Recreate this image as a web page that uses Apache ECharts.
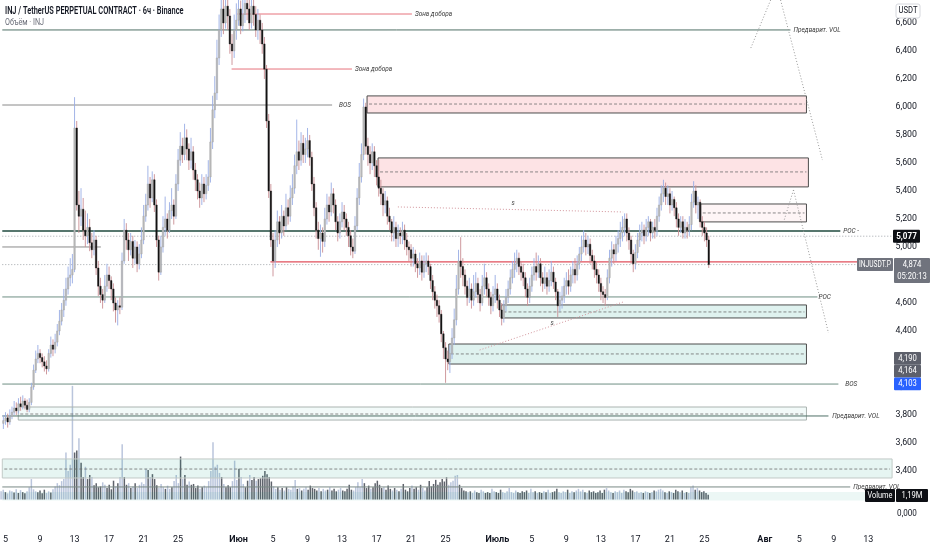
<!DOCTYPE html>
<html><head><meta charset="utf-8">
<script src="https://cdn.jsdelivr.net/npm/echarts@6/dist/echarts.min.js"></script>
<style>html,body{margin:0;padding:0;background:#fff}#c{width:932px;height:550px}</style>
</head><body><div id="c"></div>
<script>
// ---------- time axis ----------
const START_UTC = Date.UTC(2025, 4, 4, 18);   // first 6h candle
const CANDLE_MS = 6 * 3600 * 1000;
const N_CAT = 431;
const LAST_LABEL_IDX = 405;
const monthNames = ['Янв','Фев','Мар','Апр','Май','Июн','Июль','Авг','Сен','Окт','Ноя','Дек'];
const labelDays = [5, 9, 13, 17, 21, 25];

// ---------- candles [open, close, low, high] ----------
const ohlc = [
[3.74,3.76,3.70,3.80],[3.76,3.78,3.73,3.82],[3.78,3.75,3.71,3.81],[3.75,3.79,3.73,3.84],[3.79,3.82,3.77,3.86],
[3.82,3.85,3.80,3.90],[3.85,3.83,3.80,3.89],[3.83,3.88,3.81,3.92],[3.88,3.86,3.83,3.93],[3.86,3.90,3.84,3.94],
[3.90,3.87,3.84,3.92],[3.87,3.84,3.82,3.91],[3.84,3.89,3.82,3.92],[3.89,4.00,3.87,4.03],[4.00,4.12,3.98,4.16],
[4.12,4.20,4.10,4.26],[4.20,4.24,4.17,4.30],[4.24,4.21,4.17,4.27],[4.21,4.18,4.14,4.24],[4.18,4.15,4.11,4.22],
[4.15,4.13,4.09,4.19],[4.13,4.24,4.11,4.27],[4.24,4.30,4.21,4.36],[4.30,4.27,4.22,4.34],[4.27,4.32,4.24,4.38],
[4.32,4.40,4.29,4.45],[4.40,4.47,4.37,4.55],[4.47,4.55,4.44,4.60],[4.55,4.62,4.50,4.70],[4.62,4.70,4.58,4.78],
[4.70,4.78,4.66,4.86],[4.78,4.80,4.72,4.92],[4.80,4.84,4.74,4.95],[4.84,5.85,4.82,6.07],[5.85,5.30,5.26,5.90],
[5.30,5.22,5.10,5.40],[5.22,5.27,5.15,5.42],[5.27,5.12,5.05,5.35],[5.12,5.08,5.00,5.26],[5.08,5.14,5.02,5.24],
[5.14,5.03,4.97,5.20],[5.03,4.98,4.92,5.10],[4.98,5.05,4.94,5.12],[5.05,4.85,4.80,5.08],[4.85,4.72,4.65,4.90],
[4.72,4.66,4.60,4.78],[4.66,4.62,4.56,4.70],[4.62,4.72,4.60,4.80],[4.72,4.80,4.68,4.88],[4.80,4.76,4.70,4.86],
[4.76,4.70,4.62,4.79],[4.70,4.60,4.54,4.74],[4.60,4.55,4.46,4.64],[4.55,4.58,4.44,4.62],[4.58,4.57,4.52,4.64],
[4.57,4.90,4.55,4.96],[4.90,5.12,4.88,5.20],[5.12,5.05,4.98,5.17],[5.05,4.98,4.90,5.10],[4.98,5.04,4.94,5.10],
[5.04,4.92,4.85,5.08],[4.92,5.00,4.88,5.05],[5.00,4.88,4.82,5.04],[4.88,4.95,4.84,5.02],[4.95,5.05,4.92,5.14],
[5.05,5.22,5.02,5.30],[5.22,5.30,5.18,5.38],[5.30,5.45,5.26,5.58],[5.45,5.35,5.28,5.50],[5.35,5.48,5.32,5.54],
[5.48,5.30,5.25,5.52],[5.30,5.05,5.00,5.34],[5.05,4.82,4.76,5.08],[4.82,5.00,4.80,5.08],[5.00,5.14,4.96,5.22],
[5.14,5.20,5.08,5.36],[5.20,5.12,5.06,5.24],[5.12,5.26,5.10,5.32],[5.26,5.30,5.20,5.42],[5.30,5.22,5.16,5.34],
[5.22,5.45,5.20,5.52],[5.45,5.62,5.40,5.70],[5.62,5.72,5.58,5.82],[5.72,5.66,5.60,5.78],[5.66,5.78,5.62,5.88],
[5.78,5.70,5.62,5.84],[5.70,5.62,5.55,5.74],[5.62,5.68,5.56,5.78],[5.68,5.55,5.48,5.72],[5.55,5.48,5.40,5.60],
[5.48,5.40,5.34,5.52],[5.40,5.35,5.28,5.46],[5.35,5.45,5.30,5.52],[5.45,5.38,5.32,5.50],[5.38,5.44,5.34,5.52],
[5.44,5.50,5.40,5.62],[5.50,5.75,5.46,5.85],[5.75,5.98,5.70,6.08],[5.98,6.10,5.92,6.22],[6.10,6.35,6.05,6.48],
[6.35,6.55,6.30,6.66],[6.55,6.70,6.50,6.82],[6.70,6.60,6.52,6.78],[6.60,6.72,6.56,6.85],[6.72,6.65,6.55,6.80],
[6.65,6.45,6.38,6.70],[6.45,6.40,6.30,6.52],[6.40,6.55,6.35,6.66],[6.55,6.62,6.48,6.74],[6.62,6.70,6.58,6.82],
[6.70,6.58,6.52,6.76],[6.58,6.66,6.54,6.78],[6.66,6.74,6.60,6.88],[6.74,6.70,6.62,6.84],[6.70,6.60,6.55,6.78],
[6.60,6.72,6.56,6.86],[6.72,6.66,6.58,6.80],[6.66,6.55,6.50,6.72],[6.55,6.62,6.48,6.70],[6.62,6.55,6.45,6.66],
[6.55,6.45,6.38,6.60],[6.45,6.27,6.20,6.50],[6.27,5.90,5.85,6.30],[5.90,5.40,5.35,5.95],[5.40,5.05,5.00,5.45],
[5.05,4.90,4.79,5.10],[4.90,5.05,4.85,5.12],[5.05,5.18,5.00,5.26],[5.18,5.10,5.02,5.22],[5.10,5.22,5.06,5.30],
[5.22,5.15,5.08,5.26],[5.15,5.28,5.12,5.38],[5.28,5.22,5.16,5.34],[5.22,5.35,5.18,5.44],[5.35,5.42,5.30,5.52],
[5.42,5.58,5.38,5.66],[5.58,5.68,5.52,5.91],[5.68,5.62,5.55,5.76],[5.62,5.74,5.58,5.82],[5.74,5.66,5.60,5.80],
[5.66,5.70,5.60,5.78],[5.70,5.76,5.64,5.85],[5.76,5.64,5.58,5.80],[5.64,5.45,5.40,5.68],[5.45,5.28,5.22,5.50],
[5.28,5.12,5.06,5.32],[5.12,5.06,4.98,5.18],[5.06,5.10,4.93,5.16],[5.10,5.04,4.96,5.14],[5.04,5.20,5.00,5.28],
[5.20,5.30,5.16,5.38],[5.30,5.25,5.18,5.36],[5.25,5.38,5.22,5.46],[5.38,5.30,5.24,5.42],[5.30,5.18,5.12,5.34],
[5.18,5.10,5.04,5.22],[5.10,5.18,5.06,5.24],[5.18,5.25,5.14,5.32],[5.25,5.20,5.12,5.30],[5.20,5.14,5.08,5.24],
[5.14,5.08,5.00,5.18],[5.08,5.00,4.94,5.12],[5.00,4.97,4.92,5.06],[4.97,5.15,4.95,5.22],[5.15,5.35,5.12,5.42],
[5.35,5.50,5.30,5.60],[5.50,5.66,5.46,5.74],[5.66,6.00,5.62,6.06],[6.00,5.72,5.66,6.03],[5.72,5.66,5.58,5.78],
[5.66,5.60,5.52,5.72],[5.60,5.68,5.55,5.74],[5.68,5.58,5.50,5.72],[5.58,5.50,5.44,5.62],[5.50,5.42,5.36,5.62],
[5.42,5.38,5.30,5.48],[5.38,5.30,5.22,5.42],[5.30,5.33,5.24,5.40],[5.33,5.22,5.16,5.36],[5.22,5.18,5.12,5.28],
[5.18,5.10,5.04,5.20],[5.10,5.14,5.04,5.22],[5.14,5.06,5.00,5.18],[5.06,5.10,5.00,5.16],[5.10,5.08,5.02,5.14],
[5.08,5.12,5.02,5.18],[5.12,5.05,4.98,5.16],[5.05,5.00,4.94,5.10],[5.00,4.98,4.90,5.04],[4.98,4.92,4.86,5.02],
[4.92,4.95,4.86,5.00],[4.95,4.88,4.82,4.98],[4.88,4.85,4.78,4.92],[4.85,4.90,4.80,4.96],[4.90,4.82,4.76,4.94],
[4.82,4.88,4.78,4.94],[4.88,4.90,4.82,4.96],[4.90,4.86,4.80,4.94],[4.86,4.76,4.70,4.88],[4.76,4.68,4.62,4.80],
[4.68,4.62,4.56,4.72],[4.62,4.58,4.50,4.66],[4.58,4.52,4.46,4.62],[4.52,4.38,4.32,4.55],[4.38,4.28,4.20,4.40],
[4.28,4.20,4.03,4.32],[4.20,4.18,4.12,4.26],[4.18,4.24,4.10,4.30],[4.24,4.35,4.20,4.42],[4.35,4.48,4.30,4.56],
[4.48,4.70,4.44,4.80],[4.70,4.90,4.66,4.98],[4.90,4.86,4.78,5.07],[4.86,4.80,4.72,4.92],[4.80,4.72,4.66,4.84],
[4.72,4.64,4.58,4.76],[4.64,4.70,4.60,4.78],[4.70,4.62,4.56,4.74],[4.62,4.68,4.58,4.80],[4.68,4.74,4.64,4.82],
[4.74,4.66,4.60,4.78],[4.66,4.60,4.54,4.70],[4.60,4.72,4.58,4.80],[4.72,4.78,4.66,4.88],[4.78,4.70,4.64,4.82],
[4.70,4.64,4.58,4.74],[4.64,4.58,4.52,4.68],[4.58,4.66,4.54,4.72],[4.66,4.70,4.60,4.80],[4.70,4.62,4.56,4.74],
[4.62,4.55,4.50,4.66],[4.55,4.49,4.44,4.60],[4.49,4.58,4.46,4.62],[4.58,4.64,4.54,4.70],[4.64,4.70,4.60,4.76],
[4.70,4.78,4.66,4.84],[4.78,4.84,4.74,4.90],[4.84,4.88,4.78,4.96],[4.88,4.92,4.82,4.98],[4.92,4.86,4.80,4.96],
[4.86,4.82,4.76,4.90],[4.82,4.78,4.72,4.88],[4.78,4.70,4.64,4.82],[4.70,4.64,4.58,4.74],[4.64,4.72,4.60,4.78],
[4.72,4.80,4.68,4.86],[4.80,4.86,4.76,4.92],[4.86,4.82,4.76,4.96],[4.82,4.88,4.78,4.94],[4.88,4.78,4.72,4.92],
[4.78,4.74,4.68,4.82],[4.74,4.78,4.70,4.86],[4.78,4.72,4.66,4.82],[4.72,4.76,4.68,4.84],[4.76,4.82,4.72,4.90],
[4.82,4.75,4.70,4.86],[4.75,4.68,4.62,4.78],[4.68,4.58,4.50,4.70],[4.58,4.62,4.54,4.68],[4.62,4.65,4.56,4.72],
[4.65,4.72,4.60,4.78],[4.72,4.76,4.66,4.82],[4.76,4.72,4.66,4.84],[4.72,4.80,4.68,4.86],[4.80,4.84,4.74,4.90],
[4.84,4.80,4.74,4.92],[4.80,4.88,4.76,4.94],[4.88,4.95,4.84,5.00],[4.95,5.00,4.90,5.08],[5.00,5.05,4.96,5.12],
[5.05,5.00,4.94,5.10],[5.00,5.02,4.95,5.08],[5.02,4.94,4.88,5.06],[4.94,4.90,4.84,4.98],[4.90,4.84,4.78,4.94],
[4.84,4.80,4.74,4.90],[4.80,4.74,4.68,4.84],[4.74,4.68,4.62,4.78],[4.68,4.66,4.60,4.72],[4.66,4.64,4.58,4.70],
[4.64,4.78,4.62,4.84],[4.78,4.92,4.74,4.98],[4.92,4.98,4.86,5.04],[4.98,4.95,4.88,5.02],[4.95,5.02,4.90,5.08],
[5.02,5.06,4.96,5.12],[5.06,5.10,5.00,5.18],[5.10,5.14,5.04,5.22],[5.14,5.20,5.08,5.24],[5.20,5.10,5.04,5.24],
[5.10,5.05,4.98,5.14],[5.05,4.95,4.88,5.08],[4.95,4.88,4.82,4.98],[4.88,4.96,4.84,5.02],[4.96,5.05,4.92,5.10],
[5.05,5.10,5.00,5.16],[5.10,5.12,5.04,5.18],[5.12,5.08,5.02,5.16],[5.08,5.14,5.04,5.20],[5.14,5.18,5.08,5.22],
[5.18,5.10,5.04,5.20],[5.10,5.14,5.06,5.18],[5.14,5.12,5.06,5.20],[5.12,5.22,5.08,5.28],[5.22,5.30,5.18,5.36],
[5.30,5.38,5.26,5.44],[5.38,5.42,5.32,5.48],[5.42,5.36,5.30,5.46],[5.36,5.38,5.30,5.44],[5.38,5.30,5.24,5.42],
[5.30,5.34,5.26,5.40],[5.34,5.28,5.22,5.36],[5.28,5.20,5.14,5.32],[5.20,5.14,5.08,5.24],[5.14,5.18,5.10,5.22],
[5.18,5.10,5.06,5.22],[5.10,5.14,5.06,5.20],[5.14,5.12,5.06,5.18],[5.12,5.16,5.08,5.22],[5.16,5.32,5.12,5.38],
[5.32,5.40,5.28,5.47],[5.40,5.30,5.24,5.44],[5.30,5.32,5.20,5.36],[5.32,5.18,5.14,5.34],[5.18,5.14,5.08,5.22],
[5.14,5.10,5.04,5.18],[5.10,5.05,5.00,5.14],[5.05,4.874,4.85,5.08]
];

// ---------- volume (millions) ----------
const volume = [
2.0,2.4,1.8,1.5,2.2,2.0,1.7,2.5,1.6,2.3,1.8,1.5,2.0,3.0,5.0,2.5,2.0,1.8,2.2,1.5,
2.4,1.6,2.0,1.7,2.5,3.2,4.0,3.5,4.5,5.0,11.5,7.0,8.5,27.8,11.5,12.0,15.0,9.0,5.5,8.0,
5.0,6.0,5.5,3.5,4.0,3.0,3.2,4.2,3.6,2.8,3.6,2.5,4.6,3.2,4.0,5.5,13.5,5.5,3.6,4.0,
2.8,3.2,4.0,2.8,3.6,4.2,3.8,7.5,7.2,5.5,6.2,5.0,3.5,2.8,3.8,3.0,2.6,3.4,2.6,3.0,
4.5,6.0,4.0,10.5,5.0,6.0,3.6,4.4,3.6,3.8,2.8,3.4,2.6,3.0,3.4,3.0,4.5,7.0,14.0,8.0,
8.5,6.5,5.5,3.8,3.0,3.5,3.0,4.5,9.5,4.8,7.5,5.5,3.8,3.0,4.6,6.0,4.8,5.5,4.6,5.0,
5.2,5.8,7.0,6.2,5.5,4.4,3.2,2.6,3.0,2.4,2.8,2.2,3.0,2.6,2.4,3.2,4.8,2.6,2.8,2.2,
2.6,3.0,2.4,3.4,2.8,2.6,2.2,2.8,2.0,2.6,2.2,2.4,3.0,2.2,2.6,2.0,2.4,2.8,2.2,2.0,
2.6,3.6,2.4,2.2,3.0,4.2,3.0,5.0,4.0,2.8,3.4,2.6,3.0,4.0,4.6,3.6,2.8,3.0,2.4,3.4,
2.6,2.2,2.8,2.4,2.0,2.6,3.8,2.4,2.0,2.8,3.4,2.6,3.0,2.4,3.6,2.8,2.2,3.0,4.5,3.2,
3.8,4.8,3.6,4.2,5.0,4.4,5.5,3.6,4.2,4.6,5.8,6.0,3.6,2.8,2.2,2.0,1.8,2.0,1.6,2.2,
1.8,1.6,2.4,2.0,1.6,1.8,1.6,2.6,2.0,1.8,1.6,2.4,1.8,1.6,2.0,2.8,1.8,1.6,2.2,1.8,
1.6,2.0,1.8,2.2,1.6,2.6,1.8,2.0,1.6,1.8,1.6,2.0,1.8,2.4,1.6,1.8,2.0,2.6,1.8,1.6,
2.0,1.8,2.4,1.6,2.0,1.8,2.2,2.6,2.0,2.4,1.8,1.6,2.2,1.8,2.0,1.6,1.8,2.2,1.6,2.4,
2.8,2.2,1.8,1.6,2.0,1.8,2.2,1.6,2.4,2.0,1.8,2.6,2.2,1.8,2.0,1.6,1.8,1.6,2.0,1.8,
1.6,1.8,2.2,2.0,2.4,2.6,2.2,1.8,1.6,2.0,1.8,1.6,2.4,2.0,1.8,2.2,1.6,1.8,1.6,3.0,
3.4,2.4,2.8,2.2,1.8,2.0,1.6,1.19
];

// ---------- drawings (candle index, price) ----------
// zones: [fromIdx, toIdx, top, bottom, mid]
const zones = [
[168.6,372.3,6.079,5.957,6.021],
[173.7,373.2,5.636,5.429,5.536],
[323.3,372.3,5.307,5.179,5.243],
[230.9,372.3,4.586,4.493,4.536],
[206.5,372.3,4.307,4.164,4.236],
[6.9,372.3,3.857,3.764,3.807],
[-0.5,412.0,3.486,3.350,3.414],
[-0.5,399.5,3.250,3.190,null]
];
const zoneKinds = ['sell','sell','sellLight','buy','buy','volLight','vol','volBand'];

// horizontal levels: [price, fromIdx, toIdx]
const levels = [
[6.550,-0.5,364.9],[6.014,-0.5,152.4],[6.664,108.5,189.4],[6.271,105.8,161.6],
[5.114,-0.5,388.0],[5.000,-0.5,45.2],[4.893,123.8,399.5],[4.643,-0.5,377.4],
[4.021,-0.5,387.1],[3.793,-0.5,382.5],[3.286,-0.5,392.6],
[5.077,-0.5,412.0],[4.874,-0.5,399.5]
];
const levelKinds = ['vol','bos','add','add','poc','range','level','poc2','bos2','vol','vol2','price','price'];

// sloped / projection lines: [idx1, price1, idx2, price2]
const slopes = [
[182.9,5.286,287.3,5.250],[220.8,4.264,287.3,4.607],
[355.7,6.764,346.5,6.421],[360.3,6.764,379.7,5.621],
[366.3,5.407,382.5,4.386],[366.3,5.407,361.7,5.179]
];
const slopeKinds = ['s','s','proj','proj','proj','proj'];

// drawing labels: [idx, price, text]
const notes = [
[366.3,6.550,'Предварит. VOL'],[155.6,6.014,'BOS'],[190.8,6.664,'Зона добора'],[163.0,6.271,'Зона добора'],
[389.4,5.114,'POC -'],[377.9,4.643,'POC'],[390.3,4.021,'BOS'],[384.3,3.793,'Предварит. VOL'],
[394.0,3.286,'Предварит. VOL'],[235.6,5.314,'s'],[253.6,4.457,'s']
];

// price tags on the scale
const lastClose = 5.077, curPrice = 4.874, tagStack = [4.190, 4.164, 4.103];
const lastVolumeText = '1,19M', countdownText = '05:20:13';

// ---------- styles ----------
const UP_BODY = '#bcbcbc', UP_EDGE = '#9e9e9e', UP_WICK = '#98ade4', DN_BODY = '#141414', DN_WICK = '#c98d93';
const VOL_UP = 'rgba(140,158,196,0.6)', VOL_DN = 'rgba(78,82,92,0.9)';
const zoneStyle = {
  sell:{fill:'rgba(242,54,69,0.14)', stroke:'#4d4d4d'},
  sellLight:{fill:'rgba(242,54,69,0.05)', stroke:'#4d4d4d'},
  buy:{fill:'rgba(8,153,129,0.13)', stroke:'#4d4d4d'},
  volLight:{fill:'rgba(8,153,129,0.05)', stroke:'#aab3b0'},
  vol:{fill:'rgba(8,153,129,0.10)', stroke:'#c2cac7'},
  volBand:{fill:'rgba(8,153,129,0.08)', stroke:null}
};
const levelStyle = {
  vol:{stroke:'#4f7066', lineWidth:1}, bos:{stroke:'#8a8a8a', lineWidth:1},
  add:{stroke:'#e6727d', lineWidth:1}, poc:{stroke:'#1f4a3e', lineWidth:1.5},
  range:{stroke:'#8a8a8a', lineWidth:1}, level:{stroke:'#e0505c', lineWidth:1.3},
  poc2:{stroke:'#6f8f84', lineWidth:1}, bos2:{stroke:'#6f8f84', lineWidth:1},
  vol2:{stroke:'#7a8a86', lineWidth:1},
  price:{stroke:'#a0a4aa', lineWidth:1, lineDash:[1,2]}
};
const slopeStyle = {
  s:{stroke:'#d3959c', lineWidth:1, lineDash:[1,2]},
  proj:{stroke:'#9a9a9a', lineWidth:1, lineDash:[1,2]}
};
const FONT = "Roboto,'Liberation Sans',sans-serif";

// ---------- categories ----------
const catInfo = [];
for (let k = 0; k < N_CAT; k++) {
  const d = new Date(START_UTC + k * CANDLE_MS);
  catInfo.push({m: d.getUTCMonth(), d: d.getUTCDate(), h: d.getUTCHours()});
}
const categories = catInfo.map(c => (c.m + 1) + '-' + c.d + '-' + c.h);

// ---------- helpers ----------
function X(api, idx) { const b = api.size([1, 0])[0]; return api.coord([0, 5])[0] + idx * b; }
function Y(api, p) { return api.coord([0, p])[1]; }

const chart = echarts.init(document.getElementById('c'));
const option = {
  animation: false,
  backgroundColor: '#ffffff',
  grid: [
    {left: -1, right: 0, top: 0, bottom: 23},
    {left: -1, right: 0, top: 336, bottom: 50.5}
  ],
  xAxis: [
    {type:'category', gridIndex:0, data:categories, boundaryGap:true,
     axisLine:{show:false}, axisTick:{show:false}, splitLine:{show:false},
     axisLabel:{
       margin:8, fontSize:9, color:'#131722', fontFamily:FONT,
       interval:(i)=>{ const c = catInfo[i]; return i <= LAST_LABEL_IDX && c && c.h === 0 && (c.d === 1 || labelDays.indexOf(c.d) >= 0); },
       formatter:(v, i)=>{ const c = catInfo[i]; return c.d === 1 ? '{m|' + monthNames[c.m] + '}' : String(c.d); },
       rich:{m:{fontWeight:'bold', fontSize:9, color:'#131722', fontFamily:FONT}}
     }},
    {type:'category', gridIndex:1, data:categories, boundaryGap:true, show:false}
  ],
  yAxis: [
    {type:'value', gridIndex:0, position:'right', min:3.0, max:6.764, interval:0.2,
     axisLine:{show:false}, axisTick:{show:false}, splitLine:{show:false},
     axisLabel:{inside:true, margin:15, fontSize:8.8, color:'#131722', fontFamily:FONT,
       formatter:(v)=> (v > 3.3 && v < 6.7) ? v.toFixed(3).replace('.', ',') : ''}},
    {type:'value', gridIndex:1, min:0, max:40, show:false}
  ],
  series: [
    {
      type:'bar', name:'Volume', xAxisIndex:1, yAxisIndex:1, barWidth:1.5,
      data: volume.map((v, i) => ({value: v, itemStyle:{color: (ohlc[i][1] >= ohlc[i][0]) ? VOL_UP : VOL_DN}})),
      z: 1
    },
    {
      type:'custom', name:'zones', xAxisIndex:0, yAxisIndex:0, z:2,
      data: zones.map((z, k) => [k, z[2]]),
      renderItem:(params, api)=>{
        const z = zones[params.dataIndex], st = zoneStyle[zoneKinds[params.dataIndex]];
        const x1 = X(api, z[0]), x2 = X(api, z[1]), yt = Y(api, z[2]), yb = Y(api, z[3]);
        const ch = [{type:'rect', shape:{x:x1, y:yt, width:x2 - x1, height:yb - yt},
          style:{fill:st.fill, stroke:st.stroke || 'none', lineWidth: st.stroke ? 1 : 0}}];
        if (z[4] != null) {
          const ym = Y(api, z[4]);
          ch.push({type:'line', shape:{x1:x1 + 2, y1:ym, x2:x2 - 2, y2:ym}, style:{stroke:'#6d6d6d', lineWidth:0.8, lineDash:[3,2]}});
        }
        return {type:'group', children:ch};
      }
    },
    {
      type:'custom', name:'levels', xAxisIndex:0, yAxisIndex:0, z:3,
      data: levels.map((l, k) => [k, l[0]]),
      renderItem:(params, api)=>{
        const l = levels[params.dataIndex], st = levelStyle[levelKinds[params.dataIndex]];
        const y = Y(api, l[0]);
        return {type:'line', shape:{x1:X(api, l[1]), y1:y, x2:X(api, l[2]), y2:y},
          style:{stroke:st.stroke, lineWidth:st.lineWidth, lineDash:st.lineDash || null}};
      }
    },
    {
      type:'custom', name:'slopes', xAxisIndex:0, yAxisIndex:0, z:3,
      data: slopes.map((s, k) => [k, s[1]]),
      renderItem:(params, api)=>{
        const s = slopes[params.dataIndex], st = slopeStyle[slopeKinds[params.dataIndex]];
        return {type:'line', shape:{x1:X(api, s[0]), y1:Y(api, s[1]), x2:X(api, s[2]), y2:Y(api, s[3])},
          style:{stroke:st.stroke, lineWidth:st.lineWidth, lineDash:st.lineDash}};
      }
    },
    {
      type:'custom', name:'INJUSDT.P', xAxisIndex:0, yAxisIndex:0, z:4,
      data: ohlc.map((r, i) => [i, r[0], r[1], r[2], r[3]]),
      encode:{x:0, y:[1,2,3,4]},
      renderItem:(params, api)=>{
        const i = api.value(0), o = api.value(1), c = api.value(2), l = api.value(3), h = api.value(4);
        const up = c >= o;
        const x = api.coord([i, o])[0];
        const yo = Y(api, o), yc = Y(api, c), yl = Y(api, l), yh = Y(api, h);
        const bw = Math.max(1, api.size([1, 0])[0] * 0.7);
        return {type:'group', children:[
          {type:'line', shape:{x1:x, y1:yh, x2:x, y2:yl}, style:{stroke: up ? UP_WICK : DN_WICK, lineWidth:0.9}},
          {type:'rect', shape:{x:x - bw / 2, y:Math.min(yo, yc), width:bw, height:Math.max(1, Math.abs(yo - yc))},
           style:{fill: up ? UP_BODY : DN_BODY, stroke: up ? UP_EDGE : DN_BODY, lineWidth:0.4}}
        ]};
      }
    },
    {
      type:'custom', name:'notes', xAxisIndex:0, yAxisIndex:0, z:5,
      data: notes.map((n, k) => [k, n[1]]),
      renderItem:(params, api)=>{
        const n = notes[params.dataIndex];
        return {type:'text', x:X(api, n[0]), y:Y(api, n[1]), scaleX:0.9,
          style:{text:n[2], fill:'#3a3a3a', font:"italic 7.2px " + FONT, align:'left', verticalAlign:'middle',
                 textAlign:'left', textVerticalAlign:'middle'}};
      }
    }
  ]
};
chart.setOption(option);

// ---------- scale tags / header (pixel layout derived from the axes) ----------
function txt(x, y, t, font, fill, align, sx) {
  return {type:'text', z:101, zlevel:1, x:x, y:y, scaleX:sx || 1,
    style:{text:t, x:0, y:0, fill:fill, font:font, align:align, verticalAlign:'middle', textAlign:align, textVerticalAlign:'middle'}};
}
function tag(x, y, w, h, bg, lines, fs, bold, sx) {
  const out = [{type:'rect', z:100, zlevel:1, shape:{x:x, y:y, width:w, height:h, r:1}, style:{fill:bg}}];
  lines.forEach((t, k) => out.push(txt(x + w / 2, y + 6.5 + k * 12, t, (bold ? 'bold ' : '') + fs + 'px ' + FONT, '#ffffff', 'center', sx)));
  return out;
}
const fmt = v => v.toFixed(3).replace('.', ',');
const py = v => chart.convertToPixel({yAxisIndex:0}, v);
let g = [];
g.push(txt(5, 11, 'INJ / TetherUS PERPETUAL CONTRACT · 6ч · Binance', '600 10px ' + FONT, '#131722', 'left', 0.74));
g.push(txt(5, 23, 'Объём · INJ', '9px ' + FONT, '#6a6d78', 'left', 0.8));
g.push({type:'rect', z:100, zlevel:1, shape:{x:896, y:4, width:24, height:14, r:2}, style:{fill:'#ffffff', stroke:'#d6d8de', lineWidth:1}});
g.push(txt(908, 11, 'USDT', '9px ' + FONT, '#131722', 'center', 0.85));
const yLast = py(lastClose);
g = g.concat(tag(893, yLast - 6.5, 27, 13, '#0d0f14', [fmt(lastClose)], 9.5, true, 0.85));
const yCur = py(curPrice);
g = g.concat(tag(857, yCur - 6.5, 36, 13, '#70737d', ['INJUSDT.P'], 8.5, false, 0.78));
g = g.concat(tag(894, yCur - 6.5, 36, 25, '#70737d', [fmt(curPrice), countdownText], 9, false, 0.85));
const stackTop = py(tagStack[0]) - 2;
tagStack.forEach((v, k) => { g = g.concat(tag(894, stackTop - 6.5 + k * 12.8, 27, 12.8, k === 2 ? '#2962ff' : '#5d606b', [fmt(v)], 9, false, 0.85)); });
g = g.concat(tag(865, 489, 30, 13, '#0d0f14', ['Volume'], 9, false, 0.82));
g = g.concat(tag(896, 489, 32, 13, '#0d0f14', [lastVolumeText], 9, false, 0.85));
g.push(txt(907, 514, '0,000', '9px ' + FONT, '#131722', 'center', 0.9));
chart.setOption({graphic: g});
</script></body></html>
